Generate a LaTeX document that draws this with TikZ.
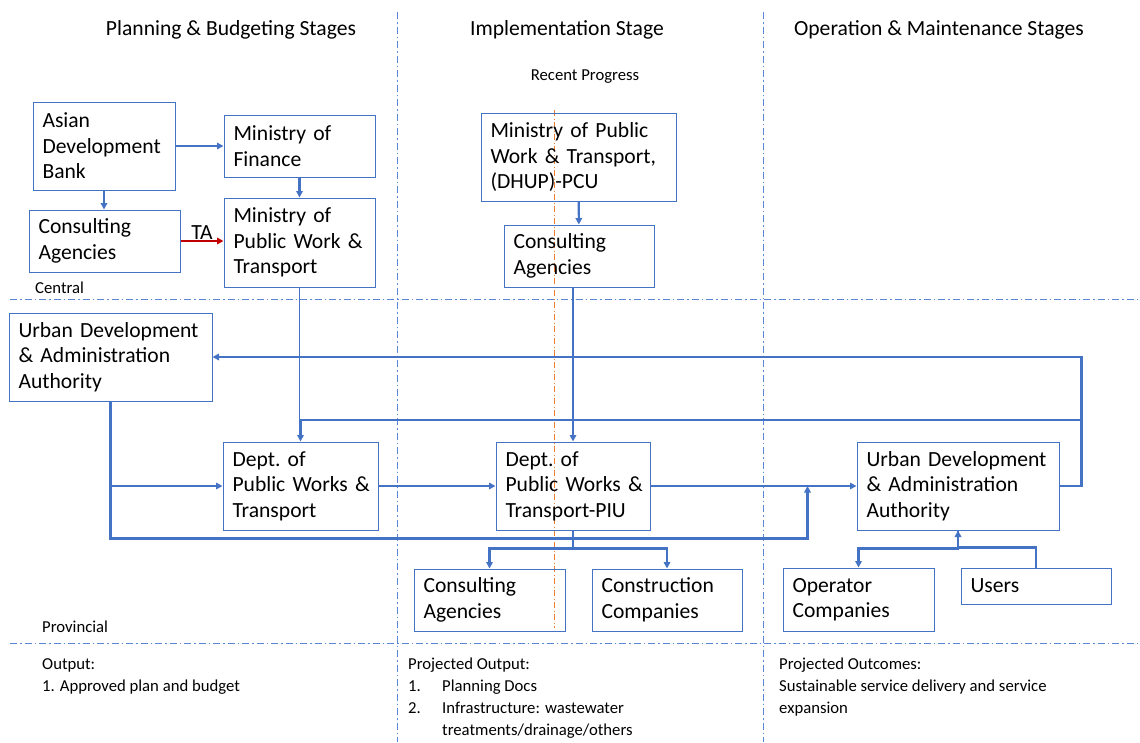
\documentclass[tikz,border=0pt]{standalone}
\usepackage{fontspec}
\setmainfont{Carlito}
\usetikzlibrary{arrows.meta,calc}

\definecolor{boxblue}{HTML}{4472C4}
\definecolor{guideblue}{HTML}{5A86D6}
\definecolor{taRed}{HTML}{C00000}
\definecolor{progOrange}{HTML}{ED7D31}

\begin{document}
\begin{tikzpicture}[x=1pt,y=-1pt,
    >={Triangle[length=6.5pt,width=6.5pt]},
    box/.style={draw=boxblue,line width=1pt,align=left,inner xsep=9.5pt,inner ysep=1pt,
      font=\fontsize{21.6pt}{25.5pt}\selectfont},
    conn/.style={draw=boxblue,line width=2.1pt},
    guide/.style={draw=guideblue,line width=1pt,dash pattern=on 7pt off 3pt on 1.5pt off 3pt},
    head/.style={font=\fontsize{21.6pt}{26pt}\selectfont,anchor=base,inner sep=0pt},
    small/.style={font=\fontsize{16.7pt}{22pt}\selectfont,inner sep=0pt},
    note/.style={small,align=left,anchor=north west}]
    \useasboundingbox (0,0) rectangle (1140,742);

    % stage and level separators
    \draw[guide] (397,12) -- (397,742);
    \draw[guide] (763,12) -- (763,742);
    \draw[guide] (10,299) -- (1140,299);
    \draw[guide] (10,643) -- (1140,643);
    \draw[progOrange,line width=0.9pt,dash pattern=on 6pt off 2.5pt on 1pt off 2.5pt] (554,110) -- (554,628);

    \node[head] (hPlan) at (231,35) {Planning \& Budgeting Stages};
    \node[head] (hImpl) at (567,35) {Implementation Stage};
    \node[head] (hOper) at (939,35) {Operation \& Maintenance Stages};
    \node[small] (recent) at (585,77) {Recent Progress};
    \node[small,anchor=west] (central) at (35,288) {Central};
    \node[small,anchor=west] (provincial) at (42,627) {Provincial};

    % central level
    \node[box,text width=123pt,minimum height=88pt] (adb) at (104,146) {Asian\\Development\\Bank};
    \node[box,text width=132pt,minimum height=62pt] (mof) at (299.5,146) {Ministry of\\Finance};
    \node[box,text width=132pt,minimum height=62pt] (cac) at (104.5,241) {Consulting\\Agencies};
    \node[box,text width=132pt,minimum height=89pt] (mpwt) at (299.5,242.5) {Ministry of\\Public~Work~\&\\Transport};
    \node[box,text width=176pt,minimum height=88pt] (pcu) at (578.5,157) {Ministry~of~Public\\Work~\&~Transport,\\(DHUP)-PCU};
    \node[box,text width=131pt,minimum height=62pt] (cai) at (579,256) {Consulting\\Agencies};

    % provincial level
    \node[box,text width=184pt,minimum height=88pt] (udaL) at (110.5,357) {Urban~Development\\\&~Administration\\Authority};
    \node[box,text width=136pt,minimum height=88pt] (dpwt) at (300.5,486) {Dept.~of\\Public~Works~\&\\Transport};
    \node[box,text width=135pt,minimum height=88pt] (piu) at (573,486) {Dept.~of\\Public~Works~\&\\Transport-PIU};
    \node[box,text width=132pt,minimum height=62pt] (cap) at (489.5,600) {Consulting\\Agencies};
    \node[box,text width=131pt,minimum height=62pt] (cons) at (667,600) {Construction\\Companies};
    \node[box,text width=183pt,minimum height=88pt] (udaR) at (958,486) {Urban~Development\\\&~Administration\\Authority};
    \node[box,text width=132pt,minimum height=63pt] (oper) at (858.5,599.5) {Operator\\Companies};
    \node[box,text width=131pt,minimum height=36pt] (users) at (1036,586) {Users};

    \draw[conn,->] (adb) -- (mof);
    \draw[conn,->] (adb.south) -- (adb.south |- cac.north);
    \draw[conn,->] (mof) -- (mpwt);
    \draw[taRed,line width=2.1pt,->] (cac.east) -- (cac.east -| mpwt.west)
      node[midway,above,inner sep=0pt,font=\fontsize{21.6pt}{25.5pt}\selectfont,text=black] (ta) {TA};
    \draw[conn,->] (pcu) -- (cai);
    \draw[conn,->] (cai.south -| piu.north) -- (piu.north);

    \draw[conn,->] (udaR.east) -- ++(22,0) coordinate (rloop) |- (udaL.east);
    \draw[conn,->] (rloop) ++(0,-66) coordinate (busTop) -| (dpwt.north);
    \draw[boxblue,line width=0.9pt] (mpwt.south) -- (mpwt.south |- busTop);

    \draw[conn,->] (dpwt) -- (piu);
    \draw[conn,->] (piu) -- (udaR);
    \coordinate (join) at ($(udaR.west)+(-49,0)$);
    \draw[conn,->] (udaL.south) |- (dpwt.west);
    \draw[conn,->] (udaL.south) -- ++(0,137) -| (join);

    \draw[conn] (piu.south) -- ++(0,18) coordinate (piuFork);
    \draw[conn,->] (piuFork) -| (cap.north);
    \draw[conn,->] (piuFork) -| (cons.north);
    \draw[conn,->] (users.north) -- ++(0,-20) -| (udaR.south);
    \draw[conn,->] (udaR.south) -- ++(0,18) -| (oper.north);

    % outputs per stage
    \node[note] (outPlan) at (42,658) {Output:\\1. Approved plan and budget};
    \node[note] (outImpl) at (408,658) {Projected Output:\\\makebox[34pt][l]{1.}Planning Docs\\\makebox[34pt][l]{2.}Infrastructure: wastewater\\\hspace*{34pt}treatments/drainage/others};
    \node[note] (outOper) at (779,658) {Projected Outcomes:\\Sustainable service delivery and service\\expansion};
\end{tikzpicture}
\end{document}
